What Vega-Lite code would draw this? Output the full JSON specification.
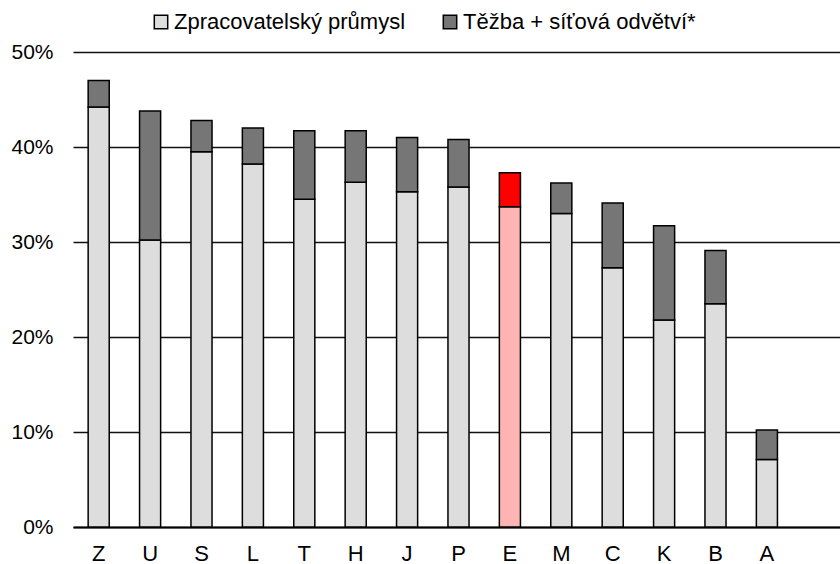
{
  "$schema": "https://vega.github.io/schema/vega-lite/v6.json",
  "autosize": "none",
  "width": 767,
  "height": 475,
  "padding": {"left": 73, "top": 52, "right": 0, "bottom": 37},
  "config": {
    "view": {"stroke": null},
    "font": "Liberation Sans",
    "axis": {"labelFont": "Liberation Sans", "labelColor": "#000"},
    "legend": {"labelFont": "Liberation Sans", "labelColor": "#000"}
  },
  "data": {
    "values": [
      {"country": "Z", "seg": "Zpracovatelský průmysl", "value": 0.442},
      {"country": "Z", "seg": "Těžba + síťová odvětví*", "value": 0.028},
      {"country": "U", "seg": "Zpracovatelský průmysl", "value": 0.302},
      {"country": "U", "seg": "Těžba + síťová odvětví*", "value": 0.136},
      {"country": "S", "seg": "Zpracovatelský průmysl", "value": 0.395},
      {"country": "S", "seg": "Těžba + síťová odvětví*", "value": 0.033},
      {"country": "L", "seg": "Zpracovatelský průmysl", "value": 0.382},
      {"country": "L", "seg": "Těžba + síťová odvětví*", "value": 0.038},
      {"country": "T", "seg": "Zpracovatelský průmysl", "value": 0.345},
      {"country": "T", "seg": "Těžba + síťová odvětví*", "value": 0.072},
      {"country": "H", "seg": "Zpracovatelský průmysl", "value": 0.363},
      {"country": "H", "seg": "Těžba + síťová odvětví*", "value": 0.054},
      {"country": "J", "seg": "Zpracovatelský průmysl", "value": 0.353},
      {"country": "J", "seg": "Těžba + síťová odvětví*", "value": 0.057},
      {"country": "P", "seg": "Zpracovatelský průmysl", "value": 0.358},
      {"country": "P", "seg": "Těžba + síťová odvětví*", "value": 0.050},
      {"country": "E", "seg": "Zpracovatelský průmysl", "value": 0.337},
      {"country": "E", "seg": "Těžba + síťová odvětví*", "value": 0.036},
      {"country": "M", "seg": "Zpracovatelský průmysl", "value": 0.330},
      {"country": "M", "seg": "Těžba + síťová odvětví*", "value": 0.032},
      {"country": "C", "seg": "Zpracovatelský průmysl", "value": 0.273},
      {"country": "C", "seg": "Těžba + síťová odvětví*", "value": 0.068},
      {"country": "K", "seg": "Zpracovatelský průmysl", "value": 0.218},
      {"country": "K", "seg": "Těžba + síťová odvětví*", "value": 0.099},
      {"country": "B", "seg": "Zpracovatelský průmysl", "value": 0.235},
      {"country": "B", "seg": "Těžba + síťová odvětví*", "value": 0.056},
      {"country": "A", "seg": "Zpracovatelský průmysl", "value": 0.071},
      {"country": "A", "seg": "Těžba + síťová odvětví*", "value": 0.031}
    ]
  },
  "mark": {"type": "bar", "stroke": "#000", "strokeWidth": 1.5},
  "encoding": {
    "x": {
      "field": "country",
      "type": "nominal",
      "sort": null,
      "scale": {"paddingInner": 0.59, "paddingOuter": 0.756, "align": 0.195},
      "axis": {
        "title": null,
        "labelAngle": 0,
        "labelFontSize": 22,
        "labelPadding": 16,
        "ticks": false,
        "domainColor": "#000",
        "domainWidth": 2
      }
    },
    "y": {
      "field": "value",
      "type": "quantitative",
      "stack": "zero",
      "scale": {"domain": [0, 0.5], "nice": false},
      "axis": {
        "title": null,
        "values": [0, 0.1, 0.2, 0.3, 0.4, 0.5],
        "format": ".0%",
        "domain": false,
        "ticks": false,
        "labelFontSize": 21,
        "labelPadding": 20,
        "gridColor": "#111",
        "gridWidth": 1.5,
        "gridOpacity": 1
      }
    },
    "order": {"field": "seg", "sort": "descending"},
    "color": {
      "condition": [
        {"test": "datum.country === 'E' && datum.seg === 'Zpracovatelský průmysl'", "value": "#FFB3B3"},
        {"test": "datum.country === 'E'", "value": "#FF0000"}
      ],
      "field": "seg",
      "type": "nominal",
      "scale": {
        "domain": ["Zpracovatelský průmysl", "Těžba + síťová odvětví*"],
        "range": ["#DDDDDD", "#767676"]
      },
      "legend": {
        "title": null,
        "orient": "none",
        "direction": "horizontal",
        "legendX": 77,
        "legendY": -41,
        "symbolType": "square",
        "symbolSize": 180,
        "symbolStrokeColor": "#000",
        "symbolStrokeWidth": 1.5,
        "symbolOpacity": 1,
        "labelFontSize": 22,
        "labelOffset": 2,
        "columnPadding": 33,
        "labelLimit": 400
      }
    }
  }
}
